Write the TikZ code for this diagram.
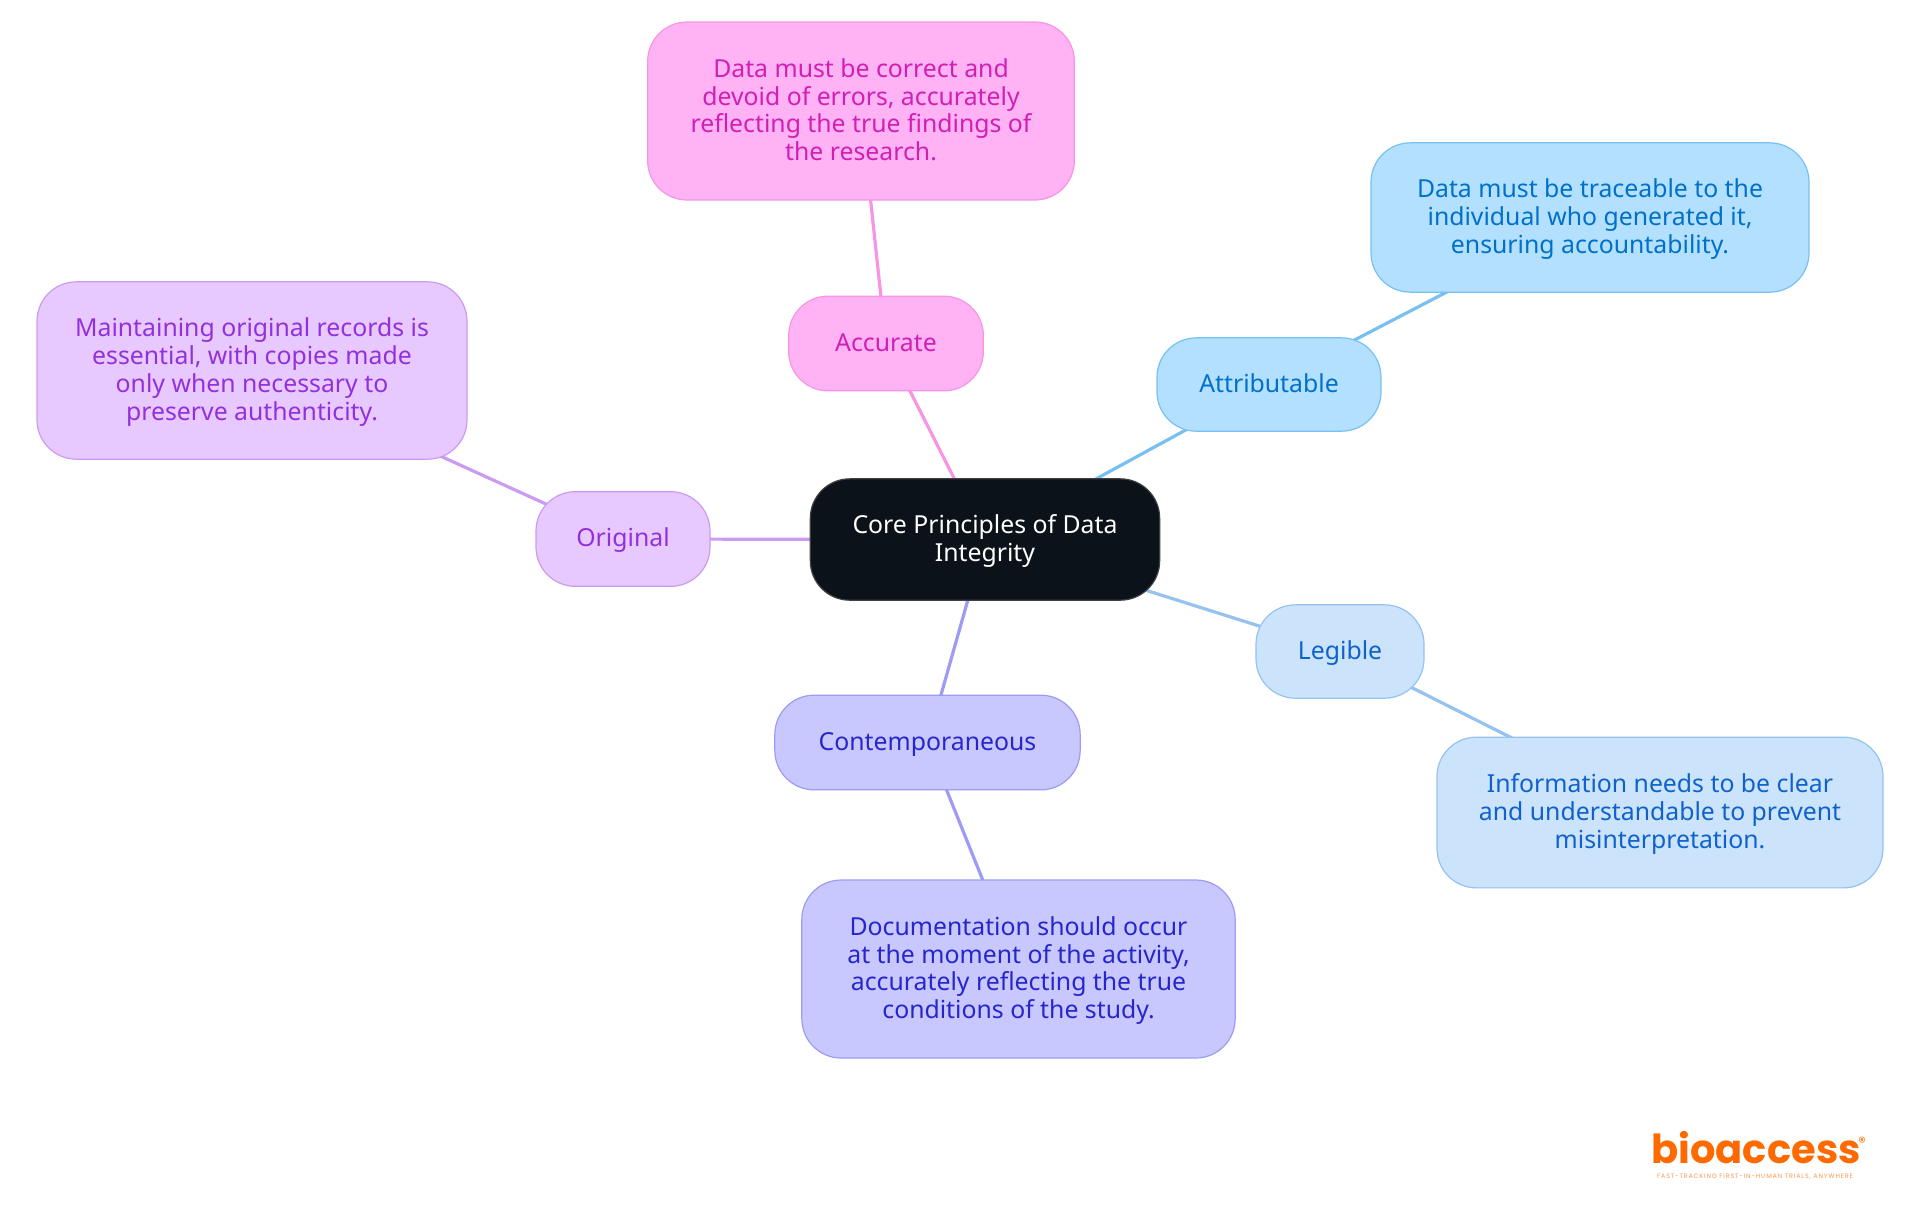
\documentclass[tikz,border=0pt]{standalone}
\usepackage{fontspec}
\setmainfont{Noto Sans}
\newfontfamily\logofont{Poppins}
\newfontfamily\tagfont[LetterSpace=13]{Poppins}
\usetikzlibrary{backgrounds}
\definecolor{pinkF}{HTML}{FFB3F5}\definecolor{pinkD}{HTML}{F794E4}\definecolor{pinkT}{HTML}{D11FB4}
\definecolor{purpF}{HTML}{E8C9FF}\definecolor{purpD}{HTML}{CB9BF0}\definecolor{purpT}{HTML}{9230DC}
\definecolor{skyF}{HTML}{B3E0FF}\definecolor{skyD}{HTML}{78C0F2}\definecolor{skyT}{HTML}{0070C9}
\definecolor{bluF}{HTML}{CCE3FC}\definecolor{bluD}{HTML}{96C2F0}\definecolor{bluT}{HTML}{0F62CC}
\definecolor{indF}{HTML}{C8C8FF}\definecolor{indD}{HTML}{9C9CF2}\definecolor{indT}{HTML}{2626CC}
\definecolor{coreF}{HTML}{0B121A}\definecolor{logoC}{HTML}{FF6A00}
\newcommand{\topln}{\rule{0pt}{18.2pt}}
\tikzset{
  mm/.style={rectangle,rounded corners=29.5pt,inner sep=0pt,align=center,line width=0.9pt,
    font=\fontsize{18.6}{20.9}\selectfont,
    execute at end node={\rule[-6.27pt]{0pt}{6.27pt}}},
  sz/.style 2 args={minimum width=#1 pt,minimum height=#2 pt},
  pinkn/.style={mm,fill=pinkF,draw=pinkD,text=pinkT},
  purpn/.style={mm,fill=purpF,draw=purpD,text=purpT},
  skyn/.style={mm,fill=skyF,draw=skyD,text=skyT},
  blun/.style={mm,fill=bluF,draw=bluD,text=bluT},
  indn/.style={mm,fill=indF,draw=indD,text=indT},
  coren/.style={mm,fill=coreF,draw=black!75,text=white},
  edge/.style={line width=2.4pt},
}
\begin{document}
\begin{tikzpicture}[x=0.75pt,y=-0.75pt]
\useasboundingbox (0,0) rectangle (1920,1215);
\node[coren,sz={262}{91}] (core) at (985,539.5) {\topln Core Principles of Data\\Integrity};
\node[pinkn,sz={146}{71}] (acc) at (886,343.5) {\topln Accurate};
\node[pinkn,sz={320}{133.5}] (accd) at (861,111) {\topln Data must be correct and\\devoid of errors, accurately\\reflecting the true findings of\\the research.};
\node[skyn,sz={168}{70}] (att) at (1269,384.5) {\topln Attributable};
\node[skyn,sz={328.5}{112}] (attd) at (1590,217.5) {\topln Data must be traceable to the\\individual who generated it,\\ensuring accountability.};
\node[blun,sz={126}{70}] (leg) at (1340,651.5) {\topln Legible};
\node[blun,sz={334.5}{113}] (legd) at (1660,812.5) {\topln Information needs to be clear\\and understandable to prevent\\misinterpretation.};
\node[indn,sz={229}{71}] (con) at (927.5,742.5) {\topln Contemporaneous};
\node[indn,sz={325}{133.5}] (cond) at (1018.5,969) {\topln Documentation should occur\\at the moment of the activity,\\accurately reflecting the true\\conditions of the study.};
\node[purpn,sz={130.5}{71}] (ori) at (623,539) {\topln Original};
\node[purpn,sz={322.5}{133}] (orid) at (252,370.5) {\topln Maintaining original records is\\essential, with copies made\\only when necessary to\\preserve authenticity.};
\begin{scope}[on background layer]
\draw[edge,pinkD] (core.center) -- (acc.center);
\draw[edge,pinkD] (acc.center) -- (accd.center);
\draw[edge,skyD] (core.center) -- (att.center);
\draw[edge,skyD] (att.center) -- (attd.center);
\draw[edge,bluD] (core.center) -- (leg.center);
\draw[edge,bluD] (leg.center) -- (legd.center);
\draw[edge,indD] (core.center) -- (con.center);
\draw[edge,indD] (con.center) -- (cond.center);
\draw[edge,purpD] (core.center) -- (ori.center);
\draw[edge,purpD] (ori.center) -- (orid.center);
\end{scope}
\node[text=logoC,inner sep=0pt,anchor=base,font=\logofont\bfseries\fontsize{30}{30}\selectfont] (logo) at (1756,1163) {bioaccess};
\node[text=logoC,inner sep=0pt,font=\logofont\fontsize{11}{11}\selectfont] (reg) at (1862,1142) {®};
\node[text=logoC!70,inner sep=0pt,anchor=center,font=\tagfont\fontsize{4.8}{5}\selectfont] (tag) at (1755,1177) {FAST-TRACKING FIRST-IN-HUMAN TRIALS, ANYWHERE};
\end{tikzpicture}
\end{document}
